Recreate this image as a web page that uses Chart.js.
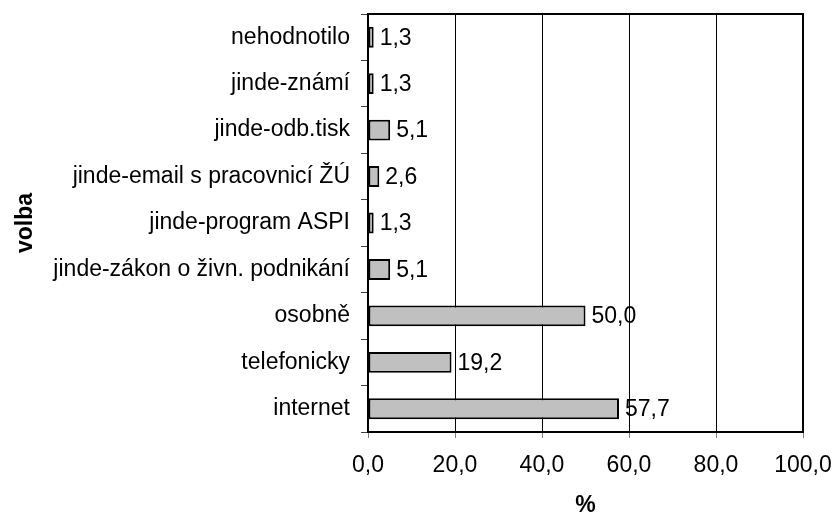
<!DOCTYPE html>
<html>
<head>
<meta charset="utf-8">
<script src="https://cdn.jsdelivr.net/npm/chart.js@4/dist/chart.umd.min.js"></script>
<style>
  html, body { margin: 0; padding: 0; background: #fff; }
  #wrap { width: 836px; height: 517px; }
</style>
</head>
<body>
<div id="wrap"><canvas id="c" width="836" height="517"></canvas></div>
<script>
// Categories (top to bottom) and their percentages
const categories = [
  'nehodnotilo',
  'jinde-známí',
  'jinde-odb.tisk',
  'jinde-email s pracovnicí ŽÚ',
  'jinde-program ASPI',
  'jinde-zákon o živn. podnikání',
  'osobně',
  'telefonicky',
  'internet'
];
const percentValues = [1.3, 1.3, 5.1, 2.6, 1.3, 5.1, 50.0, 19.2, 57.7];
const xTickValues = [0, 20, 40, 60, 80, 100];
const xAxisTitle = '%';
const yAxisTitle = 'volba';

const FONT = 'Liberation Sans, Arial, Helvetica, sans-serif';
const FONT_SIZE = 23;
const fmt = v => v.toFixed(1).replace('.', ',');

// Value labels to the right of each bar
const valueLabels = {
  id: 'valueLabels',
  afterDatasetsDraw(chart) {
    const ctx = chart.ctx;
    const meta = chart.getDatasetMeta(0);
    ctx.save();
    ctx.font = FONT_SIZE + 'px ' + FONT;
    ctx.fillStyle = '#000';
    ctx.textAlign = 'left';
    ctx.textBaseline = 'middle';
    meta.data.forEach((bar, i) => {
      ctx.fillText(fmt(chart.data.datasets[0].data[i]), bar.x + 6, bar.y + 1);
    });
    ctx.restore();
  }
};

// Frame around the plot area
const plotFrame = {
  id: 'plotFrame',
  afterDraw(chart) {
    const a = chart.chartArea;
    const ctx = chart.ctx;
    ctx.save();
    ctx.strokeStyle = '#000';
    ctx.lineWidth = 2;
    ctx.strokeRect(a.left, a.top, a.right - a.left, a.bottom - a.top);
    ctx.restore();
  }
};

new Chart(document.getElementById('c'), {
  type: 'bar',
  data: {
    labels: categories,
    datasets: [{
      data: percentValues,
      backgroundColor: '#c0c0c0',
      borderColor: '#000',
      borderWidth: 2,
      borderSkipped: false,
      barPercentage: 0.45,
      categoryPercentage: 1.0
    }]
  },
  options: {
    indexAxis: 'y',
    responsive: false,
    animation: false,
    devicePixelRatio: 1,
    layout: { padding: { top: 14, right: 33, left: 0, bottom: 0 } },
    plugins: {
      legend: { display: false },
      tooltip: { enabled: false }
    },
    scales: {
      x: {
        min: 0,
        max: 100,
        afterBuildTicks(scale) {
          scale.ticks = xTickValues.map(v => ({ value: v }));
        },
        afterFit(scale) {
          scale.height = 85;
          scale.paddingLeft = 0;
          scale.paddingRight = 0;
        },
        ticks: {
          color: '#000',
          font: { family: FONT, size: FONT_SIZE },
          padding: 14,
          callback: v => fmt(v)
        },
        grid: {
          color: '#000',
          lineWidth: 1,
          tickColor: '#808080',
          tickLength: 6
        },
        border: { display: true, color: '#000', width: 2 },
        title: {
          display: true,
          text: xAxisTitle,
          color: '#000',
          font: { family: FONT, size: FONT_SIZE, weight: 'bold', lineHeight: 1.0 },
          padding: { top: 4, bottom: 0 }
        }
      },
      y: {
        afterFit(scale) {
          scale.width = 368;
          scale.paddingTop = 0;
          scale.paddingBottom = 0;
        },
        ticks: {
          color: '#000',
          font: { family: FONT, size: FONT_SIZE },
          padding: 11,
          autoSkip: false
        },
        grid: {
          offset: true,
          drawOnChartArea: false,
          drawTicks: true,
          tickLength: 7,
          tickColor: '#404040',
          lineWidth: 1
        },
        border: { display: true, color: '#000', width: 2 },
        title: {
          display: true,
          text: yAxisTitle,
          color: '#000',
          font: { family: FONT, size: FONT_SIZE, weight: 'bold' },
          padding: { top: 12, bottom: 0 }
        }
      }
    }
  },
  plugins: [valueLabels, plotFrame]
});
</script>
</body>
</html>
